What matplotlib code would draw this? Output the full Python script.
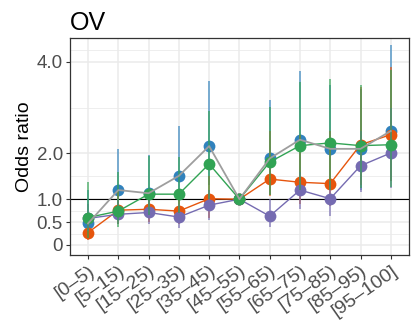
import matplotlib
matplotlib.use("Agg")
import matplotlib.pyplot as plt
import numpy as np

plt.rcParams['font.family'] = ['Liberation Sans', 'DejaVu Sans']

# age bins on the x axis
bins = ["[0–5)", "[5–15)", "[15–25)", "[25–35)", "[35–45)", "[45–55)",
        "[55–65)", "[65–75)", "[75–85)", "[85–95)", "[95–100]"]

# odds ratios and confidence limits
blue_or = [0.47, 1.20, 1.13, 1.51, 2.16, 1.00, 1.89, 2.30, 2.10, 2.10, 2.49]
blue_lo = [0.20, 0.60, 0.75, 0.90, 1.30, 1.00, 1.10, 1.30, 1.20, 1.20, 1.40]
blue_hi = [1.20, 2.10, 1.97, 2.60, 3.58, 1.00, 3.16, 3.80, 3.50, 3.40, 4.37]

orange_or = [0.27, 0.76, 0.78, 0.74, 1.01, 1.00, 1.44, 1.37, 1.34, 2.19, 2.41]
orange_lo = [0.11, 0.45, 0.50, 0.45, 0.60, 1.00, 1.06, 0.90, 0.85, 1.30, 1.40]
orange_hi = [0.60, 1.20, 1.20, 1.20, 1.50, 1.00, 2.50, 2.40, 2.50, 3.45, 3.88]

purple_or = [0.58, 0.67, 0.71, 0.61, 0.87, 1.00, 0.63, 1.20, 1.01, 1.73, 2.01]
purple_lo = [0.30, 0.45, 0.45, 0.38, 0.55, 1.00, 0.39, 0.78, 0.64, 1.15, 1.25]
purple_hi = [0.90, 1.00, 1.00, 0.90, 1.20, 1.00, 1.00, 1.60, 1.40, 2.50, 3.00]

green_or = [0.60, 0.74, 1.11, 1.11, 1.77, 1.00, 1.81, 2.17, 2.23, 2.17, 2.19]
green_lo = [0.15, 0.40, 0.65, 0.70, 1.00, 1.00, 1.10, 1.20, 1.20, 1.25, 1.26]
green_hi = [1.37, 1.60, 1.95, 1.92, 2.92, 1.00, 3.02, 3.56, 3.62, 3.50, 3.82]

y_ticks = [0, 0.5, 1.0, 2.0, 4.0]
y_minor = [0.25, 0.75, 1.5, 3.0, 4.25]

series = [
    (blue_or, blue_lo, blue_hi, "#3182bd", "#9e9e9e"),
    (orange_or, orange_lo, orange_hi, "#e6550d", "#e6550d"),
    (purple_or, purple_lo, purple_hi, "#756bb1", "#756bb1"),
    (green_or, green_lo, green_hi, "#31a354", "#31a354"),
]

fig = plt.figure(figsize=(4.11, 3.2), dpi=100)
ax = fig.add_subplot(1, 1, 1)
fig.subplots_adjust(left=0.170, right=0.995, top=0.881, bottom=0.203)

x = np.arange(len(bins))

for i, (vals, lo, hi, col, lcol) in enumerate(series):
    vals = np.array(vals)
    lo = np.array(lo)
    hi = np.array(hi)
    z = 3 + i
    ax.vlines(x, lo, hi, color=col, lw=1.1, alpha=0.8, zorder=z + 0.2)
    if lcol == "#9e9e9e":
        ax.plot(x, vals, color=lcol, lw=1.3, zorder=20)
    else:
        ax.plot(x, vals, color=lcol, lw=1.0, zorder=z)
    ax.plot(x, vals, "o", color=col, ms=8.5, mec="none", zorder=z + 0.1)

ax.axhline(1.0, color="black", lw=0.8, zorder=2)

ax.set_xlim(-0.6, len(bins) - 0.4)
ax.set_ylim(-0.22, 4.52)
ax.set_yticks(y_ticks)
ax.set_yticklabels(["0", "0.5", "1.0", "2.0", "4.0"])
ax.set_yticks(y_minor, minor=True)
ax.set_xticks(x)
ax.set_xticklabels(bins, rotation=35, ha="right", rotation_mode="anchor",
                   fontsize=14)

ax.grid(True, which="major", color="#ebebeb", lw=1.1, zorder=0)
ax.grid(True, which="minor", axis="y", color="#ebebeb", lw=0.6, zorder=0)
ax.set_axisbelow(True)

for sp in ax.spines.values():
    sp.set_color("#333333")
    sp.set_linewidth(0.9)
ax.tick_params(axis="both", which="major", colors="#333333", length=3,
               width=0.8, labelcolor="#4d4d4d", pad=2)
ax.tick_params(axis="y", which="major", labelsize=13.5)
ax.tick_params(axis="y", which="minor", length=0)

ax.set_ylabel("Odds ratio", fontsize=14, labelpad=3)
ax.set_title("OV", loc="left", fontsize=18, pad=6)

fig.savefig("out.png", dpi=100)
